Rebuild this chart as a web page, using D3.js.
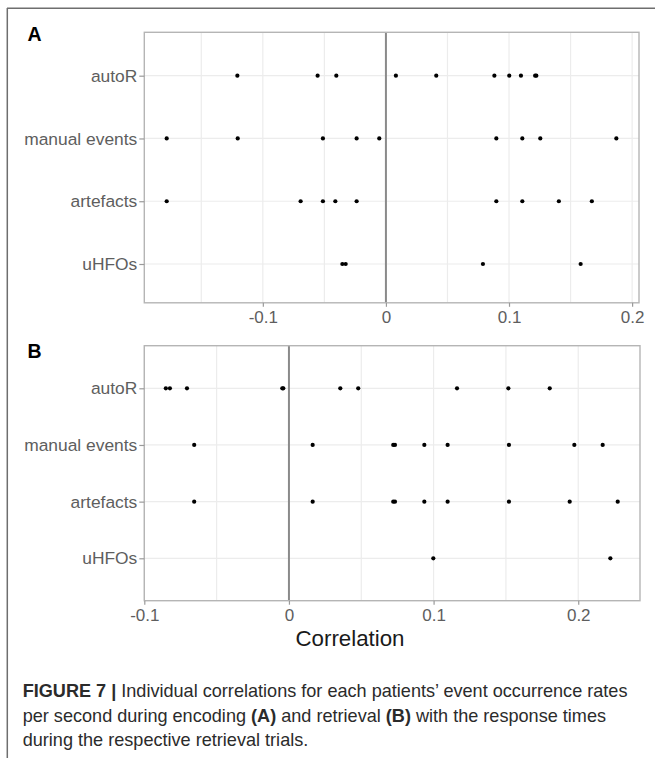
<!DOCTYPE html>
<html>
<head>
<meta charset="utf-8">
<script src="https://cdn.jsdelivr.net/npm/d3@7"></script>
<style>
  html, body { margin: 0; padding: 0; background: #fff; }
  svg { display: block; font-family: "Liberation Sans", Arial, sans-serif; }
</style>
</head>
<body>
<svg id="chart" width="655" height="758"></svg>
<script>
// ---- data ----
const categories = ["autoR", "manual events", "artefacts", "uHFOs"];

const encodingAutoR      = [-0.1207, -0.0555, -0.0403, 0.0081, 0.0409, 0.0881, 0.1002, 0.1097, 0.1212, 0.1222];
const encodingManual     = [-0.1781, -0.1204, -0.0512, -0.0238, -0.0054, 0.0897, 0.1108, 0.1254, 0.1872];
const encodingArtefacts  = [-0.1781, -0.0693, -0.0512, -0.0411, -0.0238, 0.0897, 0.1108, 0.1405, 0.1673];
const encodingUHFOs      = [-0.0354, -0.0327, 0.0788, 0.1582];

const retrievalAutoR     = [-0.0851, -0.0823, -0.0705, -0.0046, -0.0039, 0.0355, 0.0479, 0.1162, 0.1517, 0.1803];
const retrievalManual    = [-0.0655, 0.0164, 0.0721, 0.0733, 0.0936, 0.1097, 0.1521, 0.1973, 0.2169];
const retrievalArtefacts = [-0.0655, 0.0164, 0.0721, 0.0733, 0.0936, 0.1097, 0.1521, 0.1941, 0.2273];
const retrievalUHFOs     = [0.0998, 0.2222];

const ticksA = [-0.1, 0, 0.1, 0.2];
const ticksB = [-0.1, 0, 0.1, 0.2];
const minorA = [-0.15, -0.05, 0.05, 0.15];
const minorB = [-0.05, 0.05, 0.15];
const domainA = [-0.1963, 0.2056];
const domainB = [-0.1, 0.2427];

const xTitle = "Correlation";
const captionLines = [
  [{t: "FIGURE 7 | ", b: true}, {t: "Individual correlations for each patients\u2019 event occurrence rates", b: false}],
  [{t: "per second during encoding ", b: false}, {t: "(A)", b: true}, {t: " and retrieval ", b: false}, {t: "(B)", b: true}, {t: " with the response times", b: false}],
  [{t: "during the respective retrieval trials.", b: false}]
];

const fmt = v => (v === 0 ? "0" : String(v));

// ---- drawing ----
const svg = d3.select("#chart");

// outer frame (left + top)
svg.append("line").attr("x1", 7.3).attr("x2", 7.3).attr("y1", 8).attr("y2", 758)
  .attr("stroke", "#6e6e6e").attr("stroke-width", 1.5);
svg.append("line").attr("x1", 7).attr("x2", 655).attr("y1", 8.3).attr("y2", 8.3)
  .attr("stroke", "#6e6e6e").attr("stroke-width", 1.5);

function panel(cfg) {
  const g = svg.append("g");
  const x = d3.scaleLinear().domain(cfg.domain).range([cfg.left, cfg.right]);
  const y = d3.scalePoint().domain(categories).range([cfg.rowTop, cfg.rowBottom]);

  // vertical grid (minor + major)
  g.selectAll(".gv").data(cfg.minor.concat(cfg.ticks.filter(t => t !== 0)))
    .join("line")
    .attr("x1", d => x(d)).attr("x2", d => x(d))
    .attr("y1", cfg.top).attr("y2", cfg.bottom)
    .attr("stroke", "#ececec").attr("stroke-width", 1.2);
  // horizontal grid
  g.selectAll(".gh").data(categories).join("line")
    .attr("x1", cfg.left).attr("x2", cfg.right)
    .attr("y1", d => y(d)).attr("y2", d => y(d))
    .attr("stroke", "#ececec").attr("stroke-width", 1.2);

  // zero line
  g.append("line")
    .attr("x1", x(0)).attr("x2", x(0)).attr("y1", cfg.top).attr("y2", cfg.bottom)
    .attr("stroke", "#8a8a8a").attr("stroke-width", 2);

  // points
  cfg.series.forEach((vals, i) => {
    g.selectAll(null).data(vals).join("circle")
      .attr("cx", d => x(d)).attr("cy", y(categories[i]))
      .attr("r", 2.1).attr("fill", "#000");
  });

  // panel border
  g.append("rect")
    .attr("x", cfg.left).attr("y", cfg.top)
    .attr("width", cfg.right - cfg.left).attr("height", cfg.bottom - cfg.top)
    .attr("fill", "none").attr("stroke", "#b5b5b5").attr("stroke-width", 1.4);

  // x axis
  const xa = g.append("g").attr("transform", `translate(0,${cfg.bottom})`)
    .call(d3.axisBottom(x).tickValues(cfg.ticks).tickFormat(fmt).tickSize(4).tickPadding(4));
  xa.select(".domain").remove();
  xa.selectAll(".tick line").attr("stroke", "#9a9a9a").attr("stroke-width", 1.2);
  xa.selectAll(".tick text").attr("fill", "#5e5e5e").attr("font-size", 17)
    .attr("font-family", "Liberation Sans, Arial, sans-serif");

  // y axis
  const ya = g.append("g").attr("transform", `translate(${cfg.left},0)`)
    .call(d3.axisLeft(y).tickSize(5).tickPadding(2));
  ya.select(".domain").remove();
  ya.selectAll(".tick line").attr("stroke", "#9a9a9a").attr("stroke-width", 1.2);
  ya.selectAll(".tick text").attr("fill", "#5e5e5e").attr("font-size", 17.4)
    .attr("font-family", "Liberation Sans, Arial, sans-serif");

  // panel letter
  svg.append("text").attr("x", 27.5).attr("y", cfg.letterY)
    .attr("font-size", 19.5).attr("font-weight", "bold").attr("fill", "#000")
    .text(cfg.letter);
  return x;
}

panel({
  letter: "A", letterY: 41,
  domain: domainA, ticks: ticksA, minor: minorA,
  left: 144.3, right: 639, top: 32.3, bottom: 302.8,
  rowTop: 75.7, rowBottom: 264,
  series: [encodingAutoR, encodingManual, encodingArtefacts, encodingUHFOs]
});

panel({
  letter: "B", letterY: 357.5,
  domain: domainB, ticks: ticksB, minor: minorB,
  left: 144.3, right: 640, top: 345.7, bottom: 600.7,
  rowTop: 388.3, rowBottom: 558.3,
  series: [retrievalAutoR, retrievalManual, retrievalArtefacts, retrievalUHFOs]
});

// x-axis title
svg.append("text").attr("x", 350).attr("y", 645.7).attr("text-anchor", "middle")
  .attr("font-size", 22.3).attr("fill", "#1a1a1a").text(xTitle);

// caption
const capY = [697.3, 721.6, 746];
captionLines.forEach((parts, i) => {
  const t = svg.append("text").attr("x", 22.7).attr("y", capY[i])
    .attr("font-size", 18.1).attr("fill", "#2b2b2b");
  parts.forEach(p => {
    t.append("tspan").attr("font-weight", p.b ? "bold" : "normal").text(p.t);
  });
});
</script>
</body>
</html>
